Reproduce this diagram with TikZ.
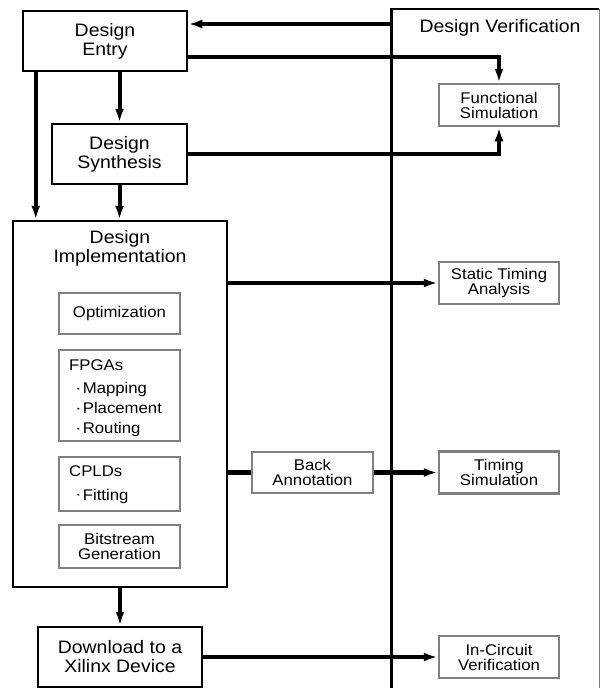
\documentclass[tikz,border=0pt]{standalone}
\usepackage{fontspec}
\setmainfont{Liberation Sans}[FakeStretch=1.08]
\usetikzlibrary{arrows.meta}
\definecolor{boxgray}{gray}{0.5}
\newcommand\bul{\hspace*{8pt}\raisebox{0.28ex}{\fontsize{7}{7}\selectfont\textbullet}\hspace{3pt}}
\begin{document}
\begin{tikzpicture}[x=1pt,y=-1pt,
  bigbox/.style={draw=black,line width=2.5pt,fill=white,inner sep=0pt,align=center,font=\fontsize{18}{19}\selectfont},
  subbox/.style={draw=boxgray,line width=2.5pt,fill=white,inner sep=0pt,align=center,font=\fontsize{15.5}{15}\selectfont},
  bigtxt/.style={inner sep=0pt,align=center,font=\fontsize{18}{19}\selectfont},
  subtxt/.style={inner sep=0pt,anchor=base west,font=\fontsize{15.5}{15}\selectfont},
  conn/.style={line width=4pt},
  arr/.style={conn,-{Latex[length=14pt,width=9pt]}},
]
\useasboundingbox (0,0) rectangle (604,688);
% Design Verification frame
\coordinate (dvtl) at (391,9);
\coordinate (dvtr) at (599,9);
\coordinate (dvbl) at (391,690);
\coordinate (dvbr) at (599,690);
\draw[line width=1.2pt] (dvtl) -- (dvtr);
\draw[boxgray,line width=1pt] (dvtr) -- (dvbr);
\draw[line width=3pt] ([yshift=0.6pt]dvtl) -- (dvbl);
\node[bigtxt] (dvt) at (500,28) {Design Verification};

% Left column
\node[bigbox,minimum width=164,minimum height=60] (DE) at (105,41) {Design\\Entry};
\node[bigbox,minimum width=135,minimum height=60] (DS) at (119.5,154) {Design\\Synthesis};
\node[bigbox,minimum width=214,minimum height=366] (DI) at (120,404) {};
\node[bigtxt] (DIt) at (120,248) {Design\\Implementation};
\node[subbox,minimum width=121,minimum height=41] (OPT) at (119.5,313.5) {Optimization};
\node[subbox,minimum width=121,minimum height=91] (FPGA) at (119.5,395.5) {};
\node[subtxt] (f1) at (69,370) {FPGAs};
\node[subtxt] (f2) at (69,393.3) {\bul Mapping};
\node[subtxt] (f3) at (69,413.3) {\bul Placement};
\node[subtxt] (f4) at (69,433.3) {\bul Routing};
\node[subbox,minimum width=121,minimum height=54] (CPLD) at (119.5,484) {};
\node[subtxt] (c1) at (69,476.7) {CPLDs};
\node[subtxt] (c2) at (69,500) {\bul Fitting};
\node[subbox,minimum width=121,minimum height=43] (BG) at (119.5,546.5) {Bitstream\\Generation};
\node[bigbox,minimum width=164,minimum height=60] (DL) at (120,657) {Download to a\\Xilinx Device};
\node[subbox,minimum width=121,minimum height=41] (BA) at (312.5,472.5) {Back\\Annotation};

% Right column
\node[subbox,minimum width=120,minimum height=42] (FS) at (499,105) {Functional\\Simulation};
\node[subbox,minimum width=120,minimum height=42] (STA) at (499,283) {Static Timing\\Analysis};
\node[subbox,minimum width=120,minimum height=42] (TS) at (499,472.5) {Timing\\Simulation};
\node[subbox,minimum width=120,minimum height=42] (ICV) at (499,657) {In-Circuit\\Verification};

% Connectors
\coordinate (dvin) at (391,24);
\draw[arr] (dvin) -- (dvin -| DE.east);
\draw[arr] ([yshift=-16pt]DE.east) -| (FS.north);
\draw[arr] (DS.east) -| (FS.south);
\draw[arr] (DS.north |- DE.south) -- (DS.north);
\draw[arr] (DS.south) -- (DS.south |- DI.north);
\coordinate (dex) at ([xshift=14pt]DE.south west);
\draw[arr] (dex) -- (dex |- DI.north);
\draw[arr] (STA.west -| DI.east) -- (STA.west);
\draw[conn,line width=5.5pt] (BA.west -| DI.east) -- (BA.west);
\draw[arr,line width=5.5pt] (BA.east) -- (TS.west);
\draw[arr] (DI.south) -- (DL.north);
\draw[arr] (DL.east) -- (ICV.west);
\end{tikzpicture}
\end{document}
